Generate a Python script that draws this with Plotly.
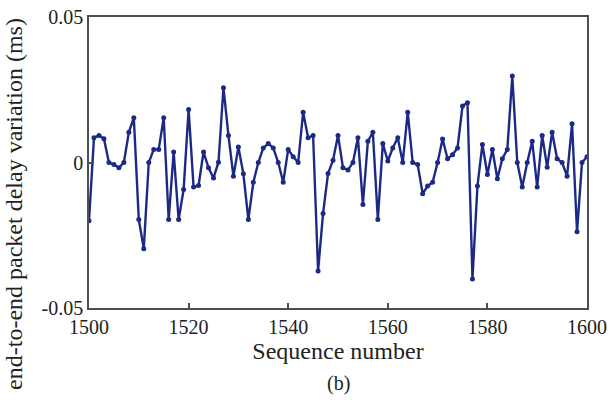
import plotly.graph_objects as go

seq = list(range(1500, 1601))
delay_var = [
    -0.0200, 0.0085, 0.0093, 0.0082, 0.0000, -0.0007, -0.0018, 0.0000, 0.0104, 0.0154,
    -0.0196, -0.0296, 0.0000, 0.0045, 0.0045, 0.0154, -0.0196, 0.0036, -0.0196, -0.0093,
    0.0182, -0.0084, -0.0079, 0.0036, -0.0018, -0.0053, 0.0001, 0.0257, 0.0093, -0.0047,
    0.0053, -0.0039, -0.0196, -0.0068, 0.0000, 0.0050, 0.0065, 0.0050, 0.0000, -0.0068,
    0.0045, 0.0020, 0.0000, 0.0173, 0.0085, 0.0093, -0.0373, -0.0175, -0.0038, 0.0008,
    0.0093, -0.0018, -0.0026, 0.0000, 0.0085, -0.0144, 0.0073, 0.0104, -0.0196, 0.0065,
    0.0005, 0.0050, 0.0085, 0.0000, 0.0173, 0.0000, -0.0007, -0.0107, -0.0081, -0.0068,
    0.0000, 0.0081, 0.0013, 0.0027, 0.0050, 0.0194, 0.0205, -0.0400, -0.0081, 0.0062,
    -0.0041, 0.0045, -0.0056, 0.0013, 0.0045, 0.0297, 0.0000, -0.0084, 0.0000, 0.0073,
    -0.0084, 0.0093, -0.0016, 0.0104, 0.0013, 0.0000, -0.0047, 0.0133, -0.0238, 0.0000,
    0.0020,
]

x_ticks = [1500, 1520, 1540, 1560, 1580, 1600]
y_ticks = [-0.05, 0, 0.05]
y_ticktext = ["-0.05", "0", "0.05"]

line_color = "#1c2a86"
frame_color = "#4a4f55"
font_family = "Liberation Serif, Times New Roman, serif"

fig = go.Figure()
fig.add_trace(go.Scatter(
    x=seq, y=delay_var, mode="lines+markers",
    line=dict(color=line_color, width=2.4),
    marker=dict(color=line_color, size=5),
    showlegend=False,
))

fig.update_layout(
    width=610, height=402,
    margin=dict(l=89, r=23, t=17, b=94),
    paper_bgcolor="white", plot_bgcolor="white",
    font=dict(family=font_family, size=20, color="#222222"),
    xaxis=dict(
        range=[1499.999, 1600.001], tickvals=x_ticks,
        ticks="inside", ticklen=5, tickcolor=frame_color, tickwidth=1.5,
        showline=True, linecolor=frame_color, linewidth=1.5, mirror=True,
        showgrid=False, zeroline=False, automargin=False,
        tickfont=dict(size=20), ticklabeloverflow="allow",
        title=dict(text="Sequence number", font=dict(size=24), standoff=2),
    ),
    yaxis=dict(
        range=[-0.05, 0.05], tickvals=y_ticks, ticktext=y_ticktext,
        ticks="inside", ticklen=5, tickcolor=frame_color, tickwidth=1.5,
        showline=True, linecolor=frame_color, linewidth=1.5, mirror=True,
        showgrid=False, zeroline=False, automargin=False,
        tickfont=dict(size=20),
    ),
    annotations=[
        dict(
            text="(b)", x=0.5, y=-0.26, xref="paper", yref="paper",
            xanchor="center", yanchor="middle", showarrow=False,
            font=dict(size=20),
        ),
        dict(
            text="end-to-end packet delay variation (ms)",
            x=-0.151, y=0.357, xref="paper", yref="paper",
            xanchor="center", yanchor="middle", showarrow=False,
            textangle=-90, font=dict(size=24),
        ),
    ],
)

fig.write_html("out.html")
